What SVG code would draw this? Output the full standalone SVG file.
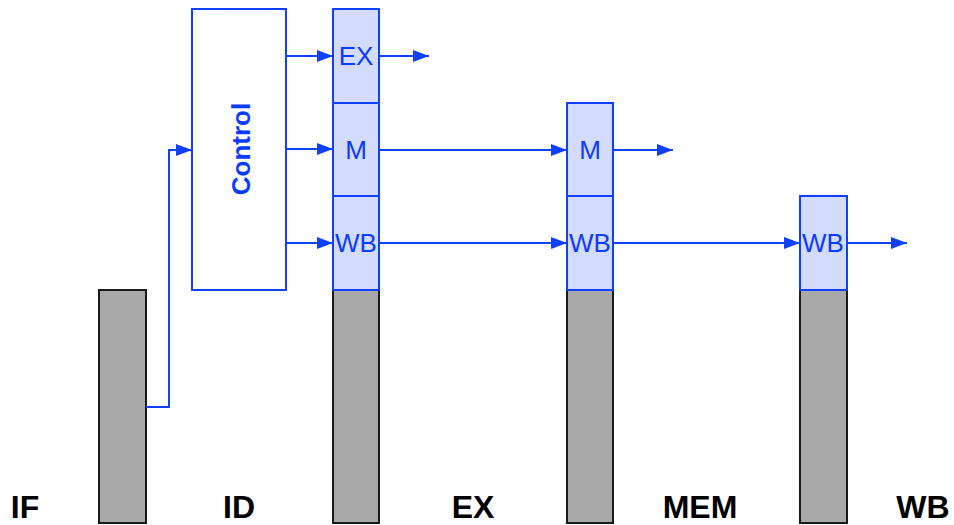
<svg xmlns="http://www.w3.org/2000/svg" width="954" height="525" viewBox="0 0 954 525">
<style>
.reg{fill:#a9a9a9;stroke:#1a1a1a;stroke-width:2}
.ctl{fill:#d3dbff;stroke:#1040ff;stroke-width:2}
.box{fill:#ffffff;stroke:#1040ff;stroke-width:2}
.w{fill:none;stroke:#1040ff;stroke-width:2}
.t{font-family:"Liberation Sans",Arial,sans-serif;font-size:26px;fill:#0a3cff;text-anchor:middle}
.st{font-family:"Liberation Sans",Arial,sans-serif;font-size:32px;font-weight:bold;fill:#000;text-anchor:middle}
</style>
<defs>
<marker id="ah" viewBox="0 0 16 12" refX="16" refY="6" markerWidth="16" markerHeight="12" markerUnits="userSpaceOnUse" orient="auto">
<path d="M0,0 L16,6 L0,12 Z" fill="#1040ff"/>
</marker>
</defs>
<g id="stages">
<text class="st" x="25" y="518">IF</text>
<text class="st" x="239" y="518">ID</text>
<text class="st" x="473" y="518">EX</text>
<text class="st" x="700" y="518">MEM</text>
<text class="st" x="923" y="518">WB</text>
</g>
<g id="ifid"><rect class="reg" x="99" y="290" width="47" height="233"/></g>
<g id="control">
<rect class="box" x="192" y="9" width="94" height="281"/>
<text class="t" font-weight="bold" transform="translate(250,149) rotate(-90)">Control</text>
</g>
<g id="idex">
<rect class="reg" x="333" y="290" width="46" height="233"/>
<rect class="ctl" x="333" y="9" width="46" height="94"/>
<rect class="ctl" x="333" y="103" width="46" height="93"/>
<rect class="ctl" x="333" y="196" width="46" height="94"/>
<text class="t" x="356" y="65">EX</text>
<text class="t" x="356" y="159">M</text>
<text class="t" x="356" y="252">WB</text>
</g>
<g id="exmem">
<rect class="reg" x="567" y="290" width="46" height="233"/>
<rect class="ctl" x="567" y="103" width="46" height="93"/>
<rect class="ctl" x="567" y="196" width="46" height="94"/>
<text class="t" x="590" y="159">M</text>
<text class="t" x="590" y="252">WB</text>
</g>
<g id="memwb">
<rect class="reg" x="800" y="290" width="47" height="233"/>
<rect class="ctl" x="800" y="196" width="47" height="94"/>
<text class="t" x="823" y="252">WB</text>
</g>
<g id="connectors">
<polyline class="w" points="146,407 169,407 169,150 192,150" marker-end="url(#ah)"/>
<line class="w" x1="286" y1="56" x2="333" y2="56" marker-end="url(#ah)"/>
<line class="w" x1="286" y1="149" x2="333" y2="149" marker-end="url(#ah)"/>
<line class="w" x1="286" y1="243" x2="333" y2="243" marker-end="url(#ah)"/>
<line class="w" x1="379" y1="56" x2="429" y2="56" marker-end="url(#ah)"/>
<line class="w" x1="379" y1="150" x2="567" y2="150" marker-end="url(#ah)"/>
<line class="w" x1="379" y1="243" x2="567" y2="243" marker-end="url(#ah)"/>
<line class="w" x1="613" y1="150" x2="673" y2="150" marker-end="url(#ah)"/>
<line class="w" x1="613" y1="243" x2="800" y2="243" marker-end="url(#ah)"/>
<line class="w" x1="847" y1="243" x2="907" y2="243" marker-end="url(#ah)"/>
</g>
</svg>
